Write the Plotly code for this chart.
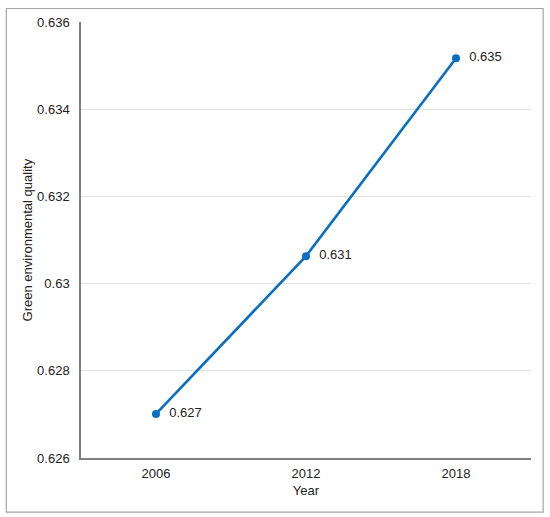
import plotly.graph_objects as go

years = ["2006", "2012", "2018"]
quality = [0.62701, 0.63063, 0.63517]
point_labels = ["0.627", "0.631", "0.635"]
y_ticks = [0.626, 0.628, 0.630, 0.632, 0.634, 0.636]
y_tick_text = ["0.626", "0.628", "0.63", "0.632", "0.634", "0.636"]

blue = "#0a6fc2"
font = "Liberation Sans, Arial, sans-serif"

fig = go.Figure()
fig.add_trace(go.Scatter(
    x=years,
    y=quality,
    mode="lines+markers+text",
    text=point_labels,
    texttemplate="  %{text}",
    textposition="middle right",
    textfont=dict(size=13, color="#222222"),
    line=dict(color=blue, width=2.6),
    marker=dict(color=blue, size=8),
    cliponaxis=False,
    showlegend=False,
))

fig.update_layout(
    width=550,
    height=517,
    margin=dict(l=81, r=19, t=22, b=59),
    paper_bgcolor="white",
    plot_bgcolor="white",
    font=dict(family=font, size=13, color="#222222"),
    xaxis=dict(
        type="category",
        range=[-0.5, 2.5],
        automargin=False,
        showline=True,
        linecolor="#7f7f7f",
        linewidth=1.5,
        showgrid=False,
        ticks="",
        ticklabelstandoff=3,
        title=dict(text="Year", standoff=6, font=dict(size=13)),
    ),
    yaxis=dict(
        range=[0.626, 0.636],
        tickvals=y_ticks,
        ticktext=y_tick_text,
        automargin=False,
        showline=True,
        linecolor="#7f7f7f",
        linewidth=1.5,
        showgrid=True,
        gridcolor="#e3e3e3",
        gridwidth=1,
        zeroline=False,
        ticks="",
        ticklabelstandoff=7,
    ),
    # y title as an annotation so it can sit exactly where the original has it
    annotations=[dict(
        text="Green environmental quality",
        xref="paper", yref="paper",
        x=-0.119, y=0.5,
        xanchor="center", yanchor="middle",
        textangle=-90,
        showarrow=False,
        font=dict(size=13),
    )],
    shapes=[dict(
        type="rect",
        xref="paper", yref="paper",
        x0=-0.166, x1=1.027, y0=-0.124, y1=1.031,
        line=dict(color="#a6a6a6", width=1.2),
        fillcolor="rgba(0,0,0,0)",
        layer="below",
    )],
)

# page body has a default 8px margin; drop it so the figure sits at 0,0
fig.write_html(
    "out.html",
    config={"displayModeBar": False},
    post_script="document.body.style.margin='0';",
)
